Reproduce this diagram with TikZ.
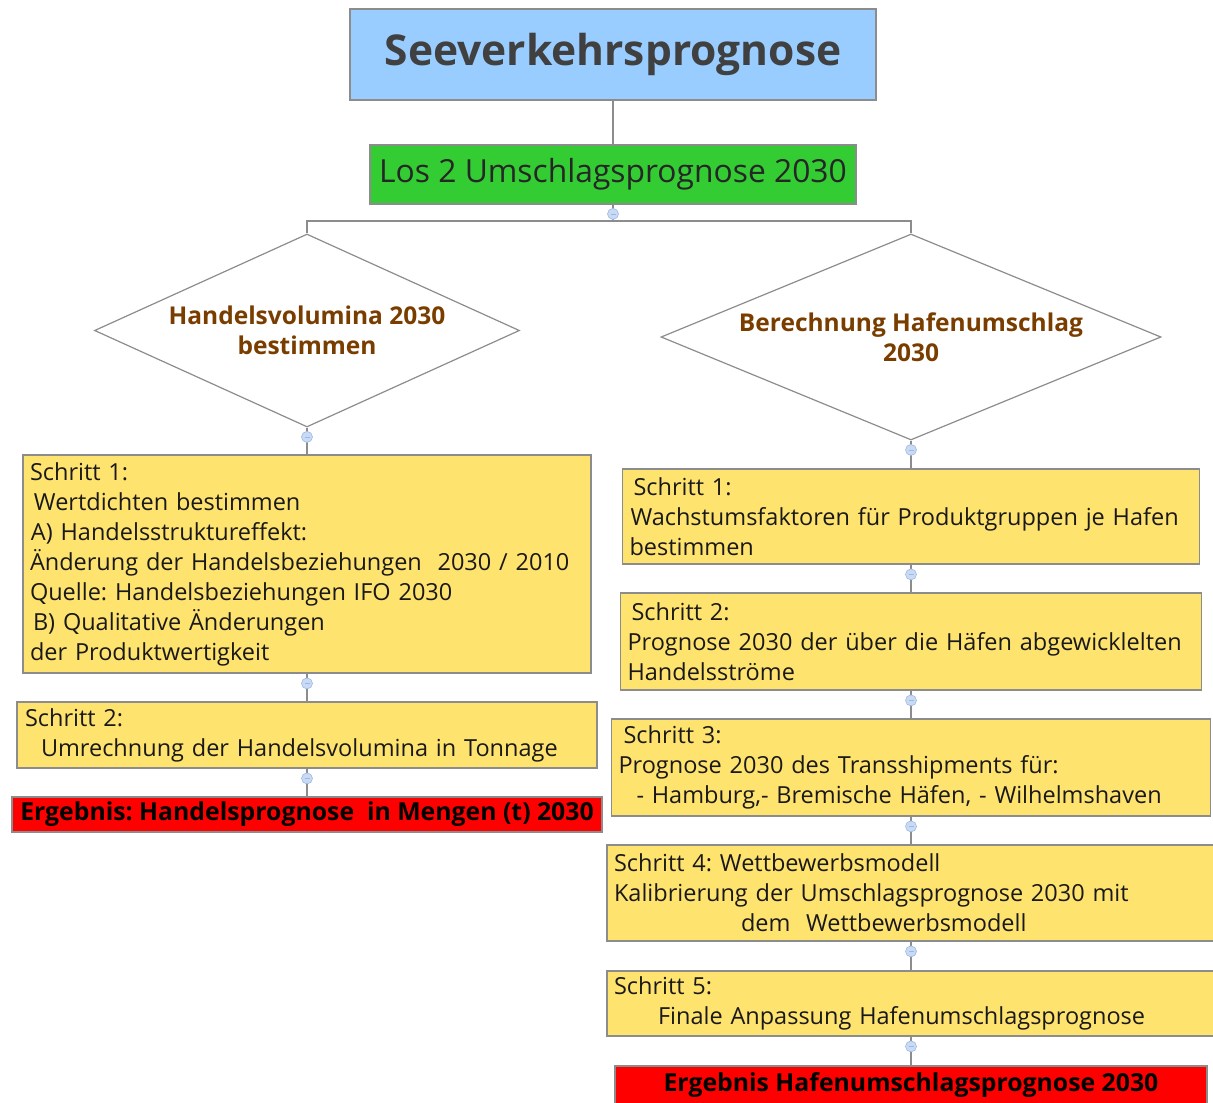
\documentclass[tikz,border=0pt]{standalone}
\usepackage{fontspec}
\setmainfont{Open Sans}
\usetikzlibrary{shapes.geometric,positioning}
\definecolor{titleblue}{HTML}{99CCFF}
\definecolor{losgreen}{HTML}{33CC33}
\definecolor{stepyellow}{HTML}{FFE36F}
\definecolor{resultred}{HTML}{FF0000}
\definecolor{framegray}{HTML}{8C8C8C}
\definecolor{titletext}{HTML}{404040}
\definecolor{diatext}{HTML}{7A3D00}
\definecolor{knobblue}{HTML}{C9DAF5}
\definecolor{knobline}{HTML}{9DB8E4}
\frenchspacing

\begin{document}
\begin{tikzpicture}[x=1pt,y=-1pt,
    frame/.style={draw=framegray, line width=1.2pt},
    stepbox/.style={frame, fill=stepyellow, align=left, inner xsep=7pt, inner ysep=0pt,
      font=\fontsize{23.5}{30}\selectfont, text=black!90},
    resultbox/.style={frame, fill=resultred, inner sep=0pt,
      font=\fontsize{24.8}{26}\selectfont\bfseries, text=black},
    decision/.style={diamond, frame, inner sep=0pt},
    decisiontext/.style={align=center, inner sep=0pt,
      font=\fontsize{24.5}{30}\selectfont\bfseries, text=diatext},
    link/.style={draw=framegray, line width=1.2pt},
    knob/.style={circle, draw=knobline, fill=knobblue, line width=0.6pt,
      minimum size=11pt, inner sep=0pt,
      path picture={\draw[knobline, line width=0.8pt]
        ([xshift=-2.5pt]path picture bounding box.center) --
        ([xshift=2.5pt]path picture bounding box.center);}}]
    \useasboundingbox (0,0) rectangle (1213,1103);

    % top
    \node[frame, fill=titleblue, minimum width=526pt, minimum height=91pt, inner sep=0pt,
      font=\fontsize{42.5}{44}\selectfont\bfseries, text=titletext] (see) at (613,54.5) {Seeverkehrsprognose};
    \node[frame, fill=losgreen, minimum width=486pt, minimum height=59pt, inner sep=0pt,
      font=\fontsize{31.8}{34}\selectfont, text=black!85] (los) at (613,174.5) {Los 2 Umschlagsprognose 2030};
    \coordinate (bar) at (613,221);

    % decisions
    \node[decision, minimum width=425pt, minimum height=193pt,
      label={[decisiontext]center:Handelsvolumina 2030\\bestimmen}] (hv) at (307,330.5) {};
    \node[decision, minimum width=500pt, minimum height=206pt,
      label={[decisiontext]center:Berechnung Hafenumschlag\\2030}] (bh) at (911,337) {};

    % left column
    \node[stepbox, text width=554pt, minimum height=218pt] (l1) at (307,564)
      {Schritt 1:\\
       \hspace*{4pt}Wertdichten bestimmen\\
       \hspace*{1pt}A) Handelsstruktureffekt:\\
       Änderung der Handelsbeziehungen \ 2030 / 2010\\
       Quelle: Handelsbeziehungen IFO 2030\\
       \hspace*{3pt}B) Qualitative Änderungen\\
       der Produktwertigkeit};
    \node[stepbox, text width=566pt, minimum height=66pt] (l2) at (307,735)
      {\hspace*{1pt}Schritt 2:\\
       \hspace*{17pt}Umrechnung der Handelsvolumina in Tonnage};
    \node[resultbox, minimum width=590pt, minimum height=35pt] (lres) at (307,814.5)
      {Ergebnis: Handelsprognose \ in Mengen (t) 2030};

    % right column
    \node[stepbox, text width=563pt, minimum height=95pt] (r1) at (911,516.5)
      {\hspace*{4pt}Schritt 1:\\
       \hspace*{1pt}Wachstumsfaktoren für Produktgruppen je Hafen\\
       bestimmen};
    \node[stepbox, text width=567pt, minimum height=97pt] (r2) at (911,641.5)
      {\hspace*{4pt}Schritt 2:\\
       Prognose 2030 der über die Häfen abgewicklelten\\
       Handelsströme};
    \node[stepbox, text width=585pt, minimum height=97pt] (r3) at (911,767.5)
      {\hspace*{5pt}Schritt 3:\\
       Prognose 2030 des Transshipments für:\\
       \hspace*{18pt}- Hamburg,- Bremische Häfen, - Wilhelmshaven};
    \node[stepbox, text width=594pt, minimum height=96pt] (r4) at (911,893)
      {Schritt 4: Wettbewerbsmodell\\
       Kalibrierung der Umschlagsprognose 2030 mit\\
       \hspace*{127pt}dem \ Wettbewerbsmodell};
    \node[stepbox, text width=594pt, minimum height=65pt] (r5) at (911,1003.5)
      {Schritt 5:\\
       \hspace*{44pt}Finale Anpassung Hafenumschlagsprognose};
    \node[resultbox, minimum width=592pt, minimum height=38pt] (rres) at (911,1085)
      {Ergebnis Hafenumschlagsprognose 2030};

    % connectors
    \draw[link] (see) -- (los);
    \draw[link] (los) -- (bar) -| (hv.north);
    \draw[link] (bar) -| (bh.north);
    \draw[link] (hv.south) -- (l1);
    \draw[link] (l1) -- (l2);
    \draw[link] (l2) -- (lres);
    \draw[link] (bh.south) -- (r1);
    \draw[link] (r1) -- (r2);
    \draw[link] (r2) -- (r3);
    \draw[link] (r3) -- (r4);
    \draw[link] (r4) -- (r5);
    \draw[link] (r5) -- (rres);

    % collapse knobs
    \node[knob, below=3.5pt of los] (klos) {};
    \node[knob, below=3.5pt of hv.south] (khv) {};
    \node[knob, below=4pt of l1] (kl1) {};
    \node[knob, below=4pt of l2] (kl2) {};
    \node[knob, below=3.5pt of bh.south] (kbh) {};
    \node[knob, below=4pt of r1] (kr1) {};
    \node[knob, below=4pt of r2] (kr2) {};
    \node[knob, below=4pt of r3] (kr3) {};
    \node[knob, below=4pt of r4] (kr4) {};
    \node[knob, below=4pt of r5] (kr5) {};
\end{tikzpicture}
\end{document}
